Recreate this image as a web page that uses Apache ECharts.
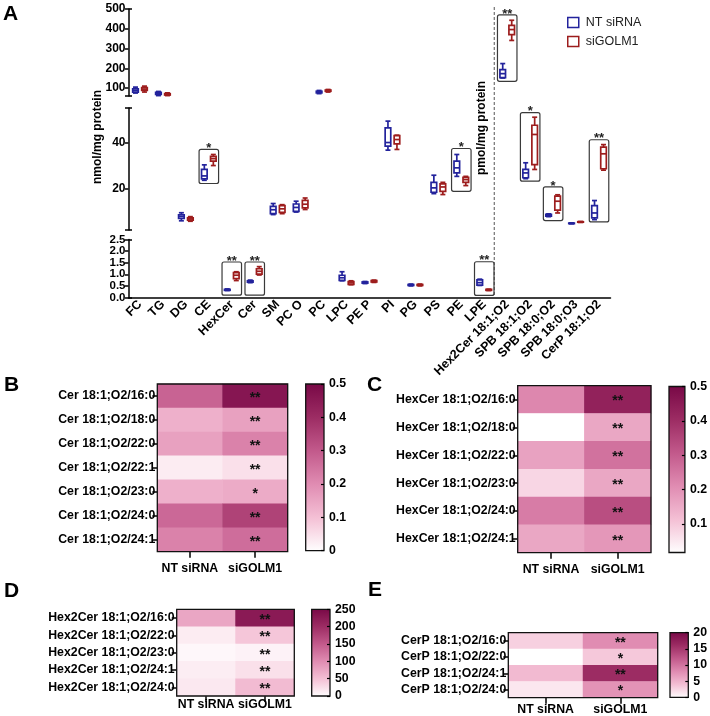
<!DOCTYPE html>
<html><head><meta charset="utf-8">
<script src="https://cdn.jsdelivr.net/npm/echarts@6/dist/echarts.min.js"></script>
<style>html,body{margin:0;padding:0;background:#fff}#c{width:710px;height:716px}</style>
</head><body><div id="c"></div>
<script>
// ---------------- DATA ----------------
const categories = ['FC','TG','DG','CE','HexCer','Cer','SM','PC O','PC','LPC','PE P','PI','PG','PS','PE','LPE',
  'Hex2Cer 18:1;O2','SPB 18:1;O2','SPB 18:0;O2','SPB 18:0;O3','CerP 18:1;O2'];
// [min, Q1, median, Q3, max]
const ntBoxes = [
  [75, 80, 88, 96, 105], [62, 68, 73, 78, 83], [6.0, 7.0, 7.8, 8.6, 9.5], [23.6, 24.2, 25.5, 28.3, 30.3],
  [0.30, 0.31, 0.33, 0.35, 0.37], [0.64, 0.66, 0.69, 0.72, 0.75], [8.7, 9.1, 10.8, 12.3, 13.5], [9.8, 10.1, 11.8, 13.3, 14.5],
  [72, 76, 80, 84, 88], [0.72, 0.74, 0.85, 0.96, 1.11], [0.60, 0.62, 0.64, 0.67, 0.69], [36.7, 38.4, 40.0, 46.4, 49.3],
  [0.50, 0.52, 0.54, 0.56, 0.58], [17.8, 18.4, 20.3, 22.7, 25.8], [25.3, 26.8, 29.0, 31.9, 34.8], [0.52, 0.53, 0.64, 0.76, 0.79],
  [151, 153, 173, 193, 224], [24.3, 24.7, 26.8, 28.3, 31.2], [7.8, 8.0, 8.4, 8.8, 9.0], [4.7, 4.8, 4.9, 5.0, 5.1],
  [6.5, 7.3, 9.4, 12.6, 14.8]
];
const siBoxes = [
  [80, 88, 95, 102, 110], [62, 65, 68, 72, 76], [5.8, 6.3, 6.8, 7.3, 7.8], [30.0, 31.9, 33.0, 34.0, 34.8],
  [0.73, 0.81, 0.96, 1.07, 1.11], [0.97, 1.01, 1.13, 1.24, 1.33], [9.1, 9.7, 11.2, 12.6, 13.0], [10.9, 11.6, 13.2, 14.9, 15.9],
  [80, 84, 87, 90, 93], [0.55, 0.57, 0.63, 0.69, 0.72], [0.65, 0.67, 0.70, 0.73, 0.75], [37.0, 39.4, 41.3, 43.0, 43.2],
  [0.50, 0.52, 0.54, 0.56, 0.58], [17.4, 18.8, 20.7, 22.0, 22.7], [21.3, 22.7, 23.9, 24.9, 25.3], [0.30, 0.31, 0.33, 0.35, 0.36],
  [341, 370, 396, 417, 443], [28.3, 30.4, 43.5, 47.5, 51.0], [9.4, 10.6, 14.5, 16.7, 17.3], [5.3, 5.4, 5.5, 5.6, 5.7],
  [28.0, 28.6, 35.1, 38.0, 39.1]
];
const sigCategories = ['CE','HexCer','Cer','PE','LPE','Hex2Cer 18:1;O2','SPB 18:1;O2','SPB 18:0;O2','CerP 18:1;O2'];
const sigLow  = [22.2, 0.10, 0.10, 18.8, 0.09, 134, 23.2, 6.1, 5.5];
const sigHigh = [37.0, 1.53, 1.53, 37.4, 1.54, 470, 53.0, 20.7, 41.2];
const sigMarks = ['*','**','**','*','**','**','*','*','**'];
const topTicks = [100, 200, 300, 400, 500];
const midTicks = [20, 40];
const lowTicks = [0, 0.5, 1.0, 1.5, 2.0, 2.5];
const segMin = [60, 2, 0];
const segMax = [500, 55, 2.5];

const groups = ['NT siRNA', 'siGOLM1'];
const cerRows = ['Cer 18:1;O2/16:0','Cer 18:1;O2/18:0','Cer 18:1;O2/22:0','Cer 18:1;O2/22:1','Cer 18:1;O2/23:0','Cer 18:1;O2/24:0','Cer 18:1;O2/24:1'];
const cerNT = [0.28, 0.13, 0.16, 0.03, 0.13, 0.27, 0.22];
const cerSi = [0.46, 0.16, 0.22, 0.05, 0.14, 0.35, 0.26];
const cerSig = ['**','**','**','**','*','**','**'];
const cerTicks = [0, 0.1, 0.2, 0.3, 0.4, 0.5];

const hexRows = ['HexCer 18:1;O2/16:0','HexCer 18:1;O2/18:0','HexCer 18:1;O2/22:0','HexCer 18:1;O2/23:0','HexCer 18:1;O2/24:0','HexCer 18:1;O2/24:1'];
const hexNT = [0.22, 0.017, 0.17, 0.08, 0.24, 0.16];
const hexSi = [0.43, 0.16, 0.26, 0.16, 0.33, 0.19];
const hexSig = ['**','**','**','**','**','**'];
const hexTicks = [0.1, 0.2, 0.3, 0.4, 0.5];

const hex2Rows = ['Hex2Cer 18:1;O2/16:0','Hex2Cer 18:1;O2/22:0','Hex2Cer 18:1;O2/23:0','Hex2Cer 18:1;O2/24:1','Hex2Cer 18:1;O2/24:0'];
const hex2NT = [75, 15, 6, 14, 18];
const hex2Si = [225, 45, 10, 25, 55];
const hex2Sig = ['**','**','**','**','**'];
const hex2Ticks = [0, 50, 100, 150, 200, 250];

const cerPRows = ['CerP 18:1;O2/16:0','CerP 18:1;O2/22:0','CerP 18:1;O2/24:1','CerP 18:1;O2/24:0'];
const cerPNT = [3, 0, 4.5, 1.5];
const cerPSi = [8, 3.5, 16, 7.5];
const cerPSig = ['**','*','**','*'];
const cerPTicks = [0, 5, 10, 15, 20];

// ---------------- STYLE ----------------
const FONT = '"Liberation Sans", Arial, Helvetica, sans-serif';
const BLUE = '#23239c', RED = '#9d1d1d';
const HEAT = ['#ffffff', '#f4c0d5', '#e08cb2', '#c2598b', '#9c2c63', '#780846'];
const A_LEFT = 128.5, A_WIDTH = 482;
const segRects = [{top: 9, height: 87}, {top: 108, height: 122}, {top: 239.5, height: 58}];
const segTicks = [topTicks, midTicks, lowTicks];

const grids = [], xAxes = [], yAxes = [], series = [], visualMaps = [];
const axisBlack = {color: '#000', width: 1.5};

function segOf(v) { return v > 57 ? 0 : (v > 2.5 ? 1 : 2); }

function boxRenderer(offset, color) {
  return function (params, api) {
    const c = api.value(0);
    const pMin = api.coord([c, api.value(1)]);
    const pQ1 = api.coord([c, api.value(2)]);
    const pMed = api.coord([c, api.value(3)]);
    const pQ3 = api.coord([c, api.value(4)]);
    const pMax = api.coord([c, api.value(5)]);
    const x = pMin[0] + offset, hw = 2.8, cw = 2.5;
    const ls = {stroke: color, lineWidth: 1.7, fill: null};
    return {type: 'group', children: [
      {type: 'line', shape: {x1: x, y1: pMax[1], x2: x, y2: pQ3[1]}, style: ls},
      {type: 'line', shape: {x1: x, y1: pQ1[1], x2: x, y2: pMin[1]}, style: ls},
      {type: 'line', shape: {x1: x - cw, y1: pMax[1], x2: x + cw, y2: pMax[1]}, style: ls},
      {type: 'line', shape: {x1: x - cw, y1: pMin[1], x2: x + cw, y2: pMin[1]}, style: ls},
      {type: 'rect', shape: {x: x - hw, y: pQ3[1], width: 2 * hw, height: Math.max(pQ1[1] - pQ3[1], 0.5)},
        style: {stroke: color, lineWidth: 1.7, fill: '#fff'}},
      {type: 'line', shape: {x1: x - hw, y1: pMed[1], x2: x + hw, y2: pMed[1]}, style: ls}
    ]};
  };
}

segRects.forEach(function (r, i) {
  const last = i === 2;
  const fmt = last ? function (v) { return v.toFixed(1); } : '{value}';
  // split labels over two co-located axes so dense labels are never dropped
  const evenLabels = segTicks[i].filter(function (v, k) { return k % 2 === 0; });
  const oddLabels = segTicks[i].filter(function (v, k) { return k % 2 === 1; });
  const labelStyle = {margin: 3, color: '#000', fontWeight: 'bold', fontSize: last ? 11.5 : 12, formatter: fmt,
    showMinLabel: true, showMaxLabel: true, hideOverlap: false};
  grids.push({left: A_LEFT, width: A_WIDTH, top: r.top, height: r.height});
  xAxes.push({type: 'category', data: categories, gridIndex: i, show: last, boundaryGap: true,
    axisLine: {lineStyle: axisBlack},
    axisTick: {alignWithLabel: true, length: 4, lineStyle: axisBlack},
    axisLabel: {interval: 0, rotate: 45, margin: 5, color: '#000', fontWeight: 'bold', fontSize: 12.5}});
  const mainY = yAxes.length;
  yAxes.push({type: 'value', gridIndex: i, position: 'left', min: segMin[i], max: segMax[i], splitLine: {show: false},
    axisLine: {show: true, lineStyle: axisBlack},
    axisTick: {show: true, length: 3.5, lineStyle: axisBlack, customValues: [segMin[i]].concat(segTicks[i], [segMax[i]])},
    axisLabel: Object.assign({customValues: evenLabels}, labelStyle)});
  yAxes.push({type: 'value', gridIndex: i, position: 'left', min: segMin[i], max: segMax[i], splitLine: {show: false},
    axisLine: {show: false},
    axisLabel: Object.assign({customValues: oddLabels, show: oddLabels.length > 0}, labelStyle),
    axisTick: {show: true, inside: true, length: 3.5, lineStyle: axisBlack, customValues: [segMin[i], segMax[i]]}});

  const ntData = [], siData = [];
  categories.forEach(function (cat, c) {
    if (segOf(ntBoxes[c][2]) === i) ntData.push([c].concat(ntBoxes[c]));
    if (segOf(siBoxes[c][2]) === i) siData.push([c].concat(siBoxes[c]));
  });
  series.push({type: 'custom', name: 'NT siRNA', xAxisIndex: i, yAxisIndex: mainY, data: ntData,
    encode: {x: 0, y: [1, 2, 3, 4, 5]}, renderItem: boxRenderer(-4.5, BLUE), itemStyle: {color: BLUE}, z: 3});
  series.push({type: 'custom', name: 'siGOLM1', xAxisIndex: i, yAxisIndex: mainY, data: siData,
    encode: {x: 0, y: [1, 2, 3, 4, 5]}, renderItem: boxRenderer(4.5, RED), itemStyle: {color: RED}, z: 3});

  const sigData = [], sigText = [];
  sigCategories.forEach(function (cat, k) {
    if (segOf(sigHigh[k]) === i || segOf(sigLow[k]) === i) {
      sigData.push([categories.indexOf(cat), sigLow[k], sigHigh[k]]);
      sigText.push(sigMarks[k]);
    }
  });
  series.push({type: 'custom', xAxisIndex: i, yAxisIndex: mainY, data: sigData, silent: true, z: 2,
    encode: {x: 0, y: [1, 2]},
    renderItem: function (params, api) {
      const c = api.value(0);
      const pLo = api.coord([c, api.value(1)]);
      const pHi = api.coord([c, api.value(2)]);
      const w = api.size([1, 0])[0] * 0.85;
      return {type: 'group', children: [
        {type: 'rect', shape: {x: pHi[0] - w / 2, y: pHi[1], width: w, height: pLo[1] - pHi[1], r: 2},
          style: {fill: null, stroke: '#3a3a3a', lineWidth: 1.2}},
        {type: 'text', x: pHi[0], y: pHi[1] - 1,
          style: {text: sigText[params.dataIndex], fill: '#222', fontSize: 13, fontWeight: 'bold', fontFamily: FONT,
            align: 'center', verticalAlign: 'middle'}}
      ]};
    }});
});

function gradient() {
  return {type: 'linear', x: 0, y: 1, x2: 0, y2: 0,
    colorStops: HEAT.map(function (c, k) { return {offset: k / (HEAT.length - 1), color: c}; })};
}

function addHeatmap(rows, nt, si, sig, min, max, ticks, tickLabels, rect, bar, colMargin) {
  const gi = grids.length;
  grids.push({left: rect.left, top: rect.top, width: rect.width, height: rect.height, show: true, z: 5,
    backgroundColor: 'transparent', borderColor: '#111', borderWidth: 1.3});
  xAxes.push({type: 'category', gridIndex: gi, data: groups, position: 'bottom',
    axisLine: {show: false}, axisTick: {show: true, alignWithLabel: true, length: 6, lineStyle: axisBlack},
    axisLabel: {interval: 0, margin: colMargin, color: '#000', fontWeight: 'bold', fontSize: 12.3}});
  yAxes.push({type: 'category', gridIndex: gi, data: rows, inverse: true,
    axisLine: {show: false}, axisTick: {show: true, alignWithLabel: true, length: 5, lineStyle: axisBlack},
    axisLabel: {interval: 0, margin: 2, color: '#000', fontWeight: 'bold', fontSize: 12.3}});
  const data = [];
  rows.forEach(function (r, k) { data.push([0, k, nt[k]]); data.push([1, k, si[k]]); });
  const si_ = series.length;
  series.push({type: 'heatmap', xAxisIndex: xAxes.length - 1, yAxisIndex: yAxes.length - 1, data: data,
    emphasis: {disabled: true},
    label: {show: true, color: '#111', fontWeight: 'bold', fontSize: 14, offset: [0, 2],
      formatter: function (p) { return p.data[0] === 1 ? sig[p.data[1]] : ''; }}});
  visualMaps.push({type: 'continuous', show: false, seriesIndex: si_, dimension: 2, min: min, max: max,
    inRange: {color: HEAT}});
  const bi = grids.length;
  grids.push({left: bar.left, top: bar.top, width: bar.width, height: bar.height, show: true,
    backgroundColor: gradient(), borderColor: '#111', borderWidth: 1.3});
  xAxes.push({type: 'category', gridIndex: bi, data: [''], show: false});
  yAxes.push({type: 'value', gridIndex: bi, position: 'right', min: min, max: max, splitLine: {show: false},
    axisLine: {show: false},
    axisTick: {show: true, inside: true, length: 3, lineStyle: {color: '#000', width: 1.2}, customValues: ticks},
    axisLabel: {customValues: tickLabels, showMinLabel: true, showMaxLabel: true, hideOverlap: false,
      margin: 5, color: '#000', fontWeight: 'bold', fontSize: 12.3}});
}

addHeatmap(cerRows, cerNT, cerSi, cerSig, 0, 0.5, cerTicks, cerTicks,
  {left: 157.3, top: 384, width: 130.4, height: 167.7}, {left: 305.7, top: 384, width: 18.3, height: 166.7}, 11);
addHeatmap(hexRows, hexNT, hexSi, hexSig, 0.017, 0.5, hexTicks, hexTicks,
  {left: 517.7, top: 385.7, width: 133.3, height: 167}, {left: 669, top: 386.5, width: 18.3, height: 166}, 11);
addHeatmap(hex2Rows, hex2NT, hex2Si, hex2Sig, 0, 250, hex2Ticks, hex2Ticks,
  {left: 176.7, top: 609.3, width: 117.6, height: 86.7}, {left: 311.7, top: 609.3, width: 18.3, height: 86.7}, 3);
addHeatmap(cerPRows, cerPNT, cerPSi, cerPSig, 0, 20, cerPTicks, cerPTicks,
  {left: 508.3, top: 632.7, width: 149.4, height: 65}, {left: 670, top: 632.7, width: 18.3, height: 64.7}, 6);

const band = A_WIDTH / categories.length;
const dashX = A_LEFT + 16 * band - 1.5;
function letter(t, x, y) {
  return {type: 'text', x: x, y: y, style: {text: t, fill: '#000', fontSize: 21, fontWeight: 'bold', fontFamily: FONT,
    align: 'left', verticalAlign: 'middle'}};
}

const option = {
  animation: false,
  backgroundColor: '#fff',
  textStyle: {fontFamily: FONT},
  grid: grids, xAxis: xAxes, yAxis: yAxes, series: series, visualMap: visualMaps,
  legend: {left: 562, top: 11, orient: 'vertical', itemWidth: 11, itemHeight: 10, itemGap: 6,
    selectedMode: false,
    textStyle: {fontSize: 12.5, color: '#222', padding: [0, 0, 0, 2]},
    data: [
      {name: 'NT siRNA', icon: 'rect', itemStyle: {color: '#fff', borderColor: BLUE, borderWidth: 1.5}},
      {name: 'siGOLM1', icon: 'rect', itemStyle: {color: '#fff', borderColor: RED, borderWidth: 1.5}}
    ]},
  graphic: [
    letter('A', 3, 14), letter('B', 4, 385), letter('C', 367, 385), letter('D', 4, 591), letter('E', 368, 590),
    {type: 'text', x: 98, y: 137, rotation: Math.PI / 2,
      style: {text: 'nmol/mg protein', fill: '#000', fontSize: 12, fontWeight: 'bold', fontFamily: FONT, align: 'center', verticalAlign: 'middle'}},
    {type: 'text', x: 481.7, y: 128, rotation: Math.PI / 2,
      style: {text: 'pmol/mg protein', fill: '#000', fontSize: 12, fontWeight: 'bold', fontFamily: FONT, align: 'center', verticalAlign: 'middle'}},
    {type: 'line', shape: {x1: dashX, y1: 7, x2: dashX, y2: 297}, style: {stroke: '#555', lineWidth: 1, lineDash: [3, 2]}}
  ]
};
const chart = echarts.init(document.getElementById('c'), null, {renderer: 'canvas'});
chart.setOption(option);
</script></body></html>
